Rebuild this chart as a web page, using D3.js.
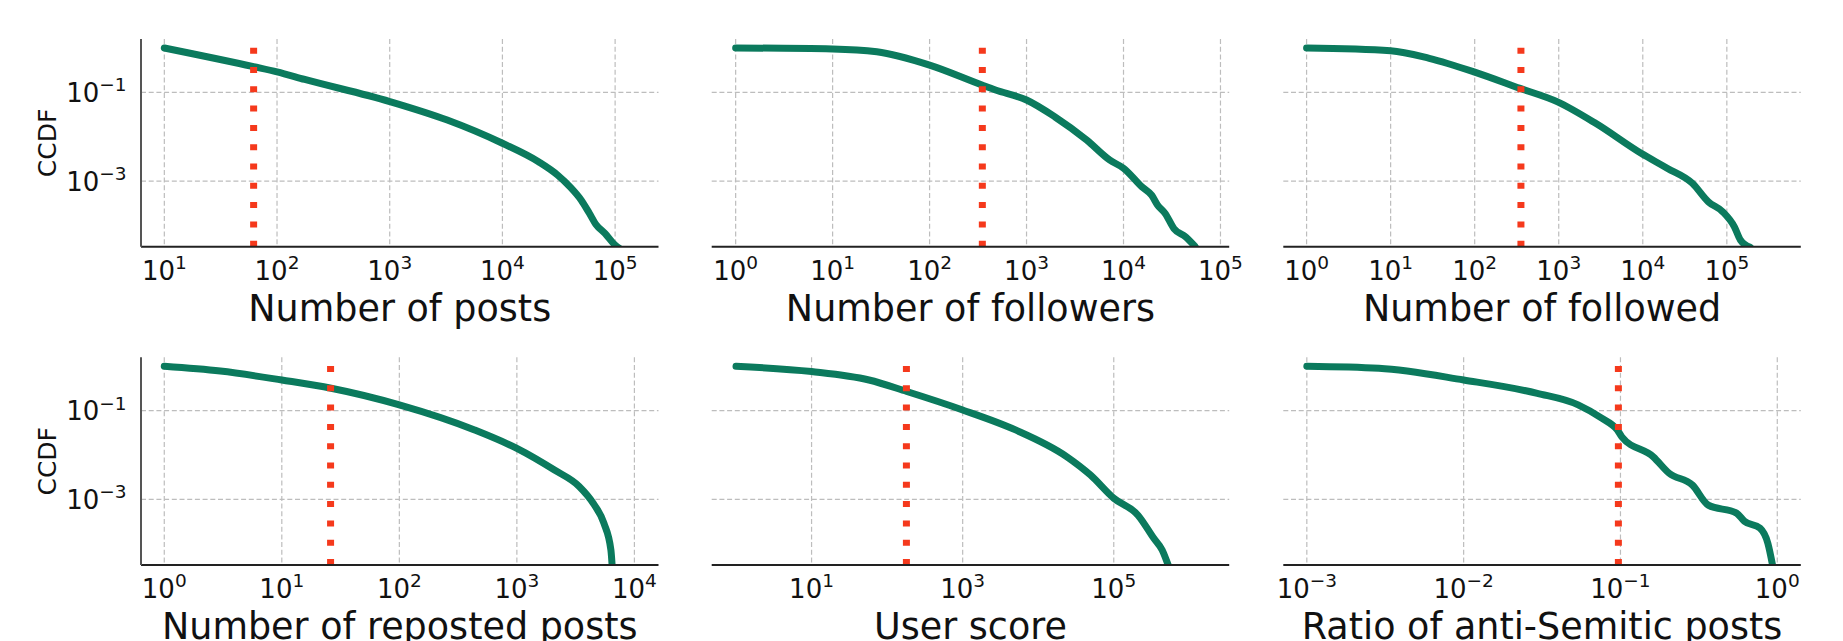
<!DOCTYPE html>
<html>
<head>
<meta charset="utf-8">
<script src="https://cdn.jsdelivr.net/npm/d3@7"></script>
<style>
  body { margin: 0; background: #fff; }
  svg { display: block; font-family: "DejaVu Sans", sans-serif; }
</style>
</head>
<body>
<svg id="chart" width="1843" height="641"></svg>
<script>
// values (x, CCDF)
var postsX = [10, 62, 100, 176, 1000, 3240, 10000, 20900, 30900, 39800, 50100, 58900, 67600, 81300, 100000, 110000];
var postsY = [1.0, 0.38, 0.29, 0.195, 0.062, 0.0237, 0.0071, 0.00272, 0.00136, 0.00074, 0.00037, 0.00019, 0.000105, 0.000066, 0.000036, 0.00003];

var followersX = [1, 10, 28.6, 100, 347, 479, 1000, 1950, 4170, 7240, 10000, 15500, 19500, 22400, 26900, 33100, 43700, 55000];
var followersY = [1.0, 0.95, 0.82, 0.41, 0.146, 0.113, 0.067, 0.0282, 0.0084, 0.00295, 0.00195, 0.00074, 0.00048, 0.00029, 0.000186, 0.000085, 0.000055, 0.000033];

var followedX = [1, 10, 28.8, 98, 347, 955, 2750, 9550, 19500, 38900, 60300, 89100, 123000, 145000, 190000];
var followedY = [1.0, 0.87, 0.585, 0.29, 0.123, 0.0617, 0.02, 0.00422, 0.00195, 0.00089, 0.00034, 0.000204, 0.000093, 0.000047, 0.000032];

var repostedX = [1, 3, 10, 26.3, 100, 437, 1000, 2090, 3390, 4470, 5500, 6310, 6460];
var repostedY = [1.0, 0.78, 0.49, 0.32, 0.135, 0.0367, 0.0141, 0.00457, 0.00195, 0.00081, 0.00029, 0.000072, 0.000033];

var scoreX = [1, 10, 57.5, 182, 1000, 5010, 24000, 49000, 100000, 209000, 339000, 437000, 525000];
var scoreY = [1.0, 0.76, 0.49, 0.27, 0.1035, 0.0367, 0.0091, 0.00355, 0.00106, 0.00044, 0.000132, 0.000072, 0.000033];

var ratioX = [0.001, 0.00288, 0.01, 0.0295, 0.0537, 0.0759, 0.0955, 0.102, 0.162, 0.204, 0.288, 0.363, 0.55, 0.617, 0.776, 0.871, 0.933];
var ratioY = [1.0, 0.90, 0.49, 0.245, 0.135, 0.0676, 0.0367, 0.0257, 0.0091, 0.0039, 0.00209, 0.00074, 0.00049, 0.00032, 0.000224, 0.000102, 0.000033];

var titles = ['Number of posts', 'Number of followers', 'Number of followed',
              'Number of reposted posts', 'User score', 'Ratio of anti-Semitic posts'];
var seriesX = [postsX, followersX, followedX, repostedX, scoreX, ratioX];
var seriesY = [postsY, followersY, followedY, repostedY, scoreY, ratioY];
var thresholds = [62, 350, 355, 26, 180, 0.097];

// tick exponents
var xTickExp = [[1, 2, 3, 4, 5], [0, 1, 2, 3, 4, 5], [0, 1, 2, 3, 4, 5],
                [0, 1, 2, 3, 4], [1, 3, 5], [-3, -2, -1, 0]];
var yTickExp = [-1, -3];

// axis limits (log10) per panel
var xLim = [[0.793, 5.385], [-0.247, 5.09], [-0.277, 5.88],
            [-0.198, 4.205], [-0.322, 6.528], [-3.15, 0.15]];
var yLim = [-4.48, 0.202];

var green = '#0b7a5d', red = '#f5391c', gridCol = '#bdbdbd';
var colLeft = [141, 711.7, 1283.3], panelW = 517.5;
var rowTop = [39, 357.3], panelH = 207.7;

var svg = d3.select('#chart');

function sup(sel, exp) {
    sel.append('tspan').text('10');
    sel.append('tspan').attr('dy', -10.5).attr('font-size', 18.5)
        .text(exp < 0 ? '\u2212' + (-exp) : exp);
}

titles.forEach(function (title, i) {
    var row = Math.floor(i / 3), col = i % 3;
    var left = colLeft[col], top = rowTop[row];
    var g = svg.append('g').attr('transform', 'translate(' + left + ',' + top + ')');

    var x = d3.scaleLog().domain([Math.pow(10, xLim[i][0]), Math.pow(10, xLim[i][1])]).range([0, panelW]);
    var y = d3.scaleLog().domain([Math.pow(10, yLim[0]), Math.pow(10, yLim[1])]).range([panelH, 0]);

    var xt = xTickExp[i].map(function (e) { return Math.pow(10, e); });
    var yt = yTickExp.map(function (e) { return Math.pow(10, e); });

    // grid
    g.selectAll('.vg').data(xt).enter().append('line')
        .attr('x1', d => x(d)).attr('x2', d => x(d))
        .attr('y1', 0).attr('y2', panelH)
        .attr('stroke', gridCol).attr('stroke-width', 1.2).attr('stroke-dasharray', '5,2.7');
    g.selectAll('.hg').data(yt).enter().append('line')
        .attr('x1', 0).attr('x2', panelW)
        .attr('y1', d => y(d)).attr('y2', d => y(d))
        .attr('stroke', gridCol).attr('stroke-width', 1.2).attr('stroke-dasharray', '5,2.7');

    // curve
    var clipId = 'clip' + i;
    g.append('clipPath').attr('id', clipId).append('rect')
        .attr('x', 0).attr('y', -10).attr('width', panelW).attr('height', panelH + 10);
    var pts = seriesX[i].map(function (v, k) { return [v, seriesY[i][k]]; });
    var line = d3.line().x(d => x(d[0])).y(d => y(d[1])).curve(d3.curveMonotoneX);
    g.append('path').datum(pts)
        .attr('clip-path', 'url(#' + clipId + ')')
        .attr('d', line)
        .attr('fill', 'none').attr('stroke', green).attr('stroke-width', 7)
        .attr('stroke-linejoin', 'round').attr('stroke-linecap', 'round');

    // threshold
    g.append('line')
        .attr('x1', x(thresholds[i])).attr('x2', x(thresholds[i]))
        .attr('y1', panelH).attr('y2', 0)
        .attr('stroke', red).attr('stroke-width', 7).attr('stroke-dasharray', '6,13.3');

    // spines
    g.append('line').attr('x1', 0).attr('x2', panelW).attr('y1', panelH).attr('y2', panelH)
        .attr('stroke', '#222').attr('stroke-width', 2);
    if (col === 0) {
        g.append('line').attr('x1', 0).attr('x2', 0).attr('y1', 0).attr('y2', panelH)
            .attr('stroke', '#555').attr('stroke-width', 2);
        yTickExp.forEach(function (e) {
            var t = g.append('text').attr('x', -14.5).attr('y', y(Math.pow(10, e)) + 9.5)
                .attr('text-anchor', 'end').attr('font-size', 26).attr('fill', '#111');
            sup(t, e);
        });
        svg.append('text')
            .attr('transform', 'translate(56,' + (top + 104) + ') rotate(-90)')
            .attr('text-anchor', 'middle').attr('font-size', 25).attr('fill', '#111')
            .text('CCDF');
    }

    // x tick labels
    xTickExp[i].forEach(function (e) {
        var t = g.append('text').attr('x', x(Math.pow(10, e))).attr('y', panelH + 33)
            .attr('text-anchor', 'middle').attr('font-size', 26).attr('fill', '#111');
        sup(t, e);
    });

    // x title
    g.append('text').attr('x', panelW / 2).attr('y', panelH + 74)
        .attr('text-anchor', 'middle').attr('font-size', 36.5).attr('fill', '#111')
        .text(title);
});
</script>
</body>
</html>
